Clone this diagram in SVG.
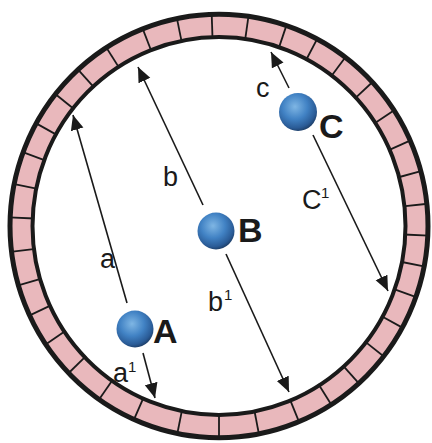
<svg xmlns="http://www.w3.org/2000/svg" xmlns:xlink="http://www.w3.org/1999/xlink" width="432" height="443" viewBox="0 0 432 443">
<style>
.lbl{font-family:"Liberation Sans",Arial,sans-serif;font-size:27px;fill:#1a1a1a}
.sup{font-family:"Liberation Sans",Arial,sans-serif;font-size:15px;fill:#1a1a1a}
.big{font-family:"Liberation Sans",Arial,sans-serif;font-size:34px;font-weight:bold;fill:#1a1a1a}
.conn{stroke:#1a1a1a;stroke-width:1.6;fill:none;marker-end:url(#ah)}
.div{stroke:#1a1a1a;stroke-width:1.8}
</style>
<defs>
<marker id="ah" markerUnits="userSpaceOnUse" markerWidth="16" markerHeight="14" refX="15" refY="6.5" orient="auto">
<path d="M0,0 L15,6.5 L0,13 z" fill="#1a1a1a"/>
</marker>
<radialGradient id="sph" cx="0.42" cy="0.36" r="0.66">
<stop offset="0" stop-color="#7fb6e4"/>
<stop offset="0.5" stop-color="#4182c4"/>
<stop offset="0.85" stop-color="#2a5b96"/>
<stop offset="1" stop-color="#1d3d66"/>
</radialGradient>
<line id="d" class="div" x1="185" y1="0" x2="210" y2="0"/>
</defs>
<rect width="432" height="443" fill="#ffffff"/>
<g id="ring" transform="translate(219 226) scale(1 1.013)">
<circle r="197.5" fill="none" stroke="#e9b8bc" stroke-width="23"/>
<use xlink:href="#d" transform="rotate(90)"/>
<use xlink:href="#d" transform="rotate(101.5)"/>
<use xlink:href="#d" transform="rotate(114)"/>
<use xlink:href="#d" transform="rotate(125)"/>
<use xlink:href="#d" transform="rotate(136)"/>
<use xlink:href="#d" transform="rotate(146)"/>
<use xlink:href="#d" transform="rotate(155)"/>
<use xlink:href="#d" transform="rotate(163.7)"/>
<use xlink:href="#d" transform="rotate(173)"/>
<use xlink:href="#d" transform="rotate(182.3)"/>
<use xlink:href="#d" transform="rotate(191.4)"/>
<use xlink:href="#d" transform="rotate(200.4)"/>
<use xlink:href="#d" transform="rotate(209)"/>
<use xlink:href="#d" transform="rotate(218.5)"/>
<use xlink:href="#d" transform="rotate(227.6)"/>
<use xlink:href="#d" transform="rotate(237.4)"/>
<use xlink:href="#d" transform="rotate(248.6)"/>
<use xlink:href="#d" transform="rotate(258.4)"/>
<use xlink:href="#d" transform="rotate(268)"/>
<use xlink:href="#d" transform="rotate(278.1)"/>
<use xlink:href="#d" transform="rotate(288.8)"/>
<use xlink:href="#d" transform="rotate(298)"/>
<use xlink:href="#d" transform="rotate(307.2)"/>
<use xlink:href="#d" transform="rotate(317.2)"/>
<use xlink:href="#d" transform="rotate(326.9)"/>
<use xlink:href="#d" transform="rotate(336.2)"/>
<use xlink:href="#d" transform="rotate(345)"/>
<use xlink:href="#d" transform="rotate(354)"/>
<use xlink:href="#d" transform="rotate(2.6)"/>
<use xlink:href="#d" transform="rotate(11)"/>
<use xlink:href="#d" transform="rotate(19.6)"/>
<use xlink:href="#d" transform="rotate(28.7)"/>
<use xlink:href="#d" transform="rotate(38)"/>
<use xlink:href="#d" transform="rotate(48)"/>
<use xlink:href="#d" transform="rotate(57.5)"/>
<use xlink:href="#d" transform="rotate(67.5)"/>
<use xlink:href="#d" transform="rotate(79)"/>
<circle r="209" fill="none" stroke="#1a1a1a" stroke-width="5"/>
<circle r="186.5" fill="none" stroke="#1a1a1a" stroke-width="4"/>
</g>
<g id="connectors">
<line class="conn" x1="127" y1="303" x2="73" y2="115"/>
<line class="conn" x1="143" y1="353" x2="155" y2="398"/>
<line class="conn" x1="203" y1="205" x2="138" y2="67"/>
<line class="conn" x1="226" y1="254" x2="289" y2="392"/>
<line class="conn" x1="289" y1="88" x2="271" y2="52"/>
<line class="conn" x1="313" y1="135" x2="388" y2="291"/>
</g>
<g id="labels">
<text class="lbl" x="100" y="268">a</text>
<text class="lbl" x="163" y="186">b</text>
<text class="lbl" x="256" y="97">c</text>
<text class="lbl" x="302" y="209">C</text><text class="sup" x="321" y="198">1</text>
<text class="lbl" x="208" y="311">b</text><text class="sup" x="224" y="300">1</text>
<text class="lbl" x="113" y="382">a</text><text class="sup" x="128" y="372">1</text>
</g>
<g id="node-A">
<circle cx="135" cy="329" r="18.5" fill="url(#sph)"/>
<text class="big" x="153" y="343">A</text>
</g>
<g id="node-B">
<circle cx="216" cy="231" r="18.5" fill="url(#sph)"/>
<text class="big" x="238" y="242">B</text>
</g>
<g id="node-C">
<circle cx="298" cy="112" r="19" fill="url(#sph)"/>
<text class="big" x="319" y="138">C</text>
</g>
</svg>
